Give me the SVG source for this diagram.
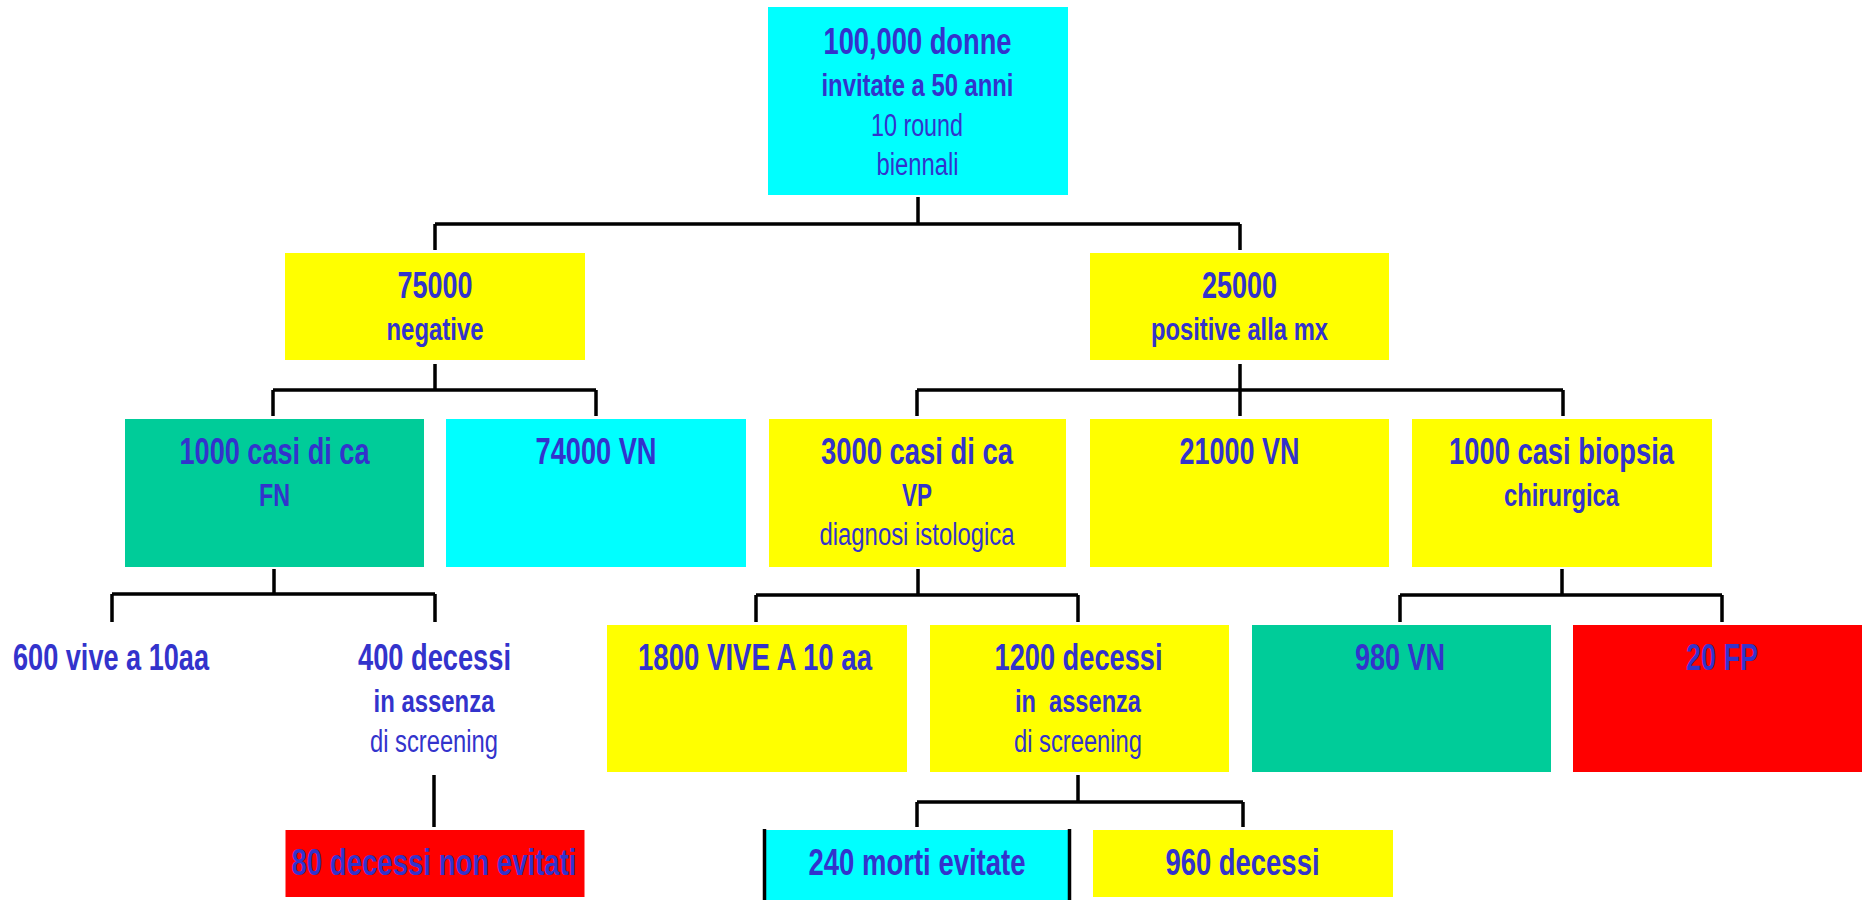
<svg xmlns="http://www.w3.org/2000/svg" width="1862" height="900" viewBox="0 0 1862 900">
<style>
text{font-family:"Liberation Sans",Arial,sans-serif;fill:#3333CC;text-anchor:middle}
.b1{font-size:36px;font-weight:bold}
.b2{font-size:31px;font-weight:bold}
.r2{font-size:31px;font-weight:normal}
.cy{fill:#00FFFF}.ye{fill:#FFFF00}.gr{fill:#00CC99}.rd{fill:#FF0000}
.ln{stroke:#000;stroke-width:3.5;fill:none}
</style>
<rect width="1862" height="900" fill="#fff"/>
<g id="connectors" class="ln">
<path d="M918,197V224M435,224H1240M435,224V250M1240,224V250"/>
<path d="M435,364V390M273,390H596M273,390V416M596,390V416"/>
<path d="M1240,364V416M917,390H1563M917,390V416M1563,390V416"/>
<path d="M274,569V594M112,594H435M112,594V622M435,594V622"/>
<path d="M918,569V595M756,595H1078M756,595V622M1078,595V622"/>
<path d="M1562,569V595M1400,595H1722M1400,595V622M1722,595V622"/>
<path d="M434,775V827"/>
<path d="M1078,775V802M917,802H1243M917,802V827M1243,802V827"/>
</g>
<g id="n-root">
<rect class="cy" x="768" y="7" width="300" height="188"/>
<text class="b1" x="917.5" y="54" textLength="188" lengthAdjust="spacingAndGlyphs">100,000 donne</text>
<text class="b2" x="917.5" y="96" textLength="192" lengthAdjust="spacingAndGlyphs">invitate a 50 anni</text>
<text class="r2" x="917" y="136" textLength="92" lengthAdjust="spacingAndGlyphs">10 round</text>
<text class="r2" x="917.5" y="175" textLength="82" lengthAdjust="spacingAndGlyphs">biennali</text>
</g>
<g id="n-neg">
<rect class="ye" x="285" y="253" width="300" height="107"/>
<text class="b1" x="435" y="298" textLength="75" lengthAdjust="spacingAndGlyphs">75000</text>
<text class="b2" x="435" y="340" textLength="97" lengthAdjust="spacingAndGlyphs">negative</text>
</g>
<g id="n-pos">
<rect class="ye" x="1090" y="253" width="299" height="107"/>
<text class="b1" x="1239.5" y="298" textLength="75" lengthAdjust="spacingAndGlyphs">25000</text>
<text class="b2" x="1239.5" y="340" textLength="177" lengthAdjust="spacingAndGlyphs">positive alla mx</text>
</g>
<g id="n-fn">
<rect class="gr" x="125" y="419" width="299" height="148"/>
<text class="b1" x="274.5" y="464" textLength="190" lengthAdjust="spacingAndGlyphs">1000 casi di ca</text>
<text class="b2" x="274.5" y="506" textLength="31" lengthAdjust="spacingAndGlyphs">FN</text>
</g>
<g id="n-vn74">
<rect class="cy" x="446" y="419" width="300" height="148"/>
<text class="b1" x="596" y="464" textLength="121" lengthAdjust="spacingAndGlyphs">74000 VN</text>
</g>
<g id="n-vp">
<rect class="ye" x="769" y="419" width="297" height="148"/>
<text class="b1" x="917" y="464" textLength="192" lengthAdjust="spacingAndGlyphs">3000 casi di ca</text>
<text class="b2" x="917" y="506" textLength="30" lengthAdjust="spacingAndGlyphs">VP</text>
<text class="r2" x="917" y="545" textLength="195" lengthAdjust="spacingAndGlyphs">diagnosi istologica</text>
</g>
<g id="n-vn21">
<rect class="ye" x="1090" y="419" width="299" height="148"/>
<text class="b1" x="1239.5" y="464" textLength="120" lengthAdjust="spacingAndGlyphs">21000 VN</text>
</g>
<g id="n-biopsia">
<rect class="ye" x="1412" y="419" width="300" height="148"/>
<text class="b1" x="1561.5" y="464" textLength="225" lengthAdjust="spacingAndGlyphs">1000 casi biopsia</text>
<text class="b2" x="1561.5" y="506" textLength="115" lengthAdjust="spacingAndGlyphs">chirurgica</text>
</g>
<g id="n-vive600">
<text class="b1" x="111" y="670" textLength="196" lengthAdjust="spacingAndGlyphs">600 vive a 10aa</text>
</g>
<g id="n-dec400">
<text class="b1" x="434.5" y="670" textLength="153" lengthAdjust="spacingAndGlyphs">400 decessi</text>
<text class="b2" x="434" y="711.5" textLength="121" lengthAdjust="spacingAndGlyphs">in assenza</text>
<text class="r2" x="434" y="751.5" textLength="128" lengthAdjust="spacingAndGlyphs">di screening</text>
</g>
<g id="n-vive1800">
<rect class="ye" x="607" y="625" width="300" height="147"/>
<text class="b1" x="755" y="670" textLength="234" lengthAdjust="spacingAndGlyphs">1800 VIVE A 10 aa</text>
</g>
<g id="n-dec1200">
<rect class="ye" x="930" y="625" width="299" height="147"/>
<text class="b1" x="1078.5" y="670" textLength="168" lengthAdjust="spacingAndGlyphs">1200 decessi</text>
<text class="b2" x="1078" y="711.5" textLength="126" lengthAdjust="spacingAndGlyphs" xml:space="preserve">in  assenza</text>
<text class="r2" x="1078" y="751.5" textLength="128" lengthAdjust="spacingAndGlyphs">di screening</text>
</g>
<g id="n-vn980">
<rect class="gr" x="1252" y="625" width="299" height="147"/>
<text class="b1" x="1400" y="670" textLength="90" lengthAdjust="spacingAndGlyphs">980 VN</text>
</g>
<g id="n-fp20">
<rect class="rd" x="1573" y="625" width="289" height="147"/>
<text class="b1" x="1722" y="670" textLength="72" lengthAdjust="spacingAndGlyphs">20 FP</text>
</g>
<g id="n-dec80">
<rect class="rd" x="285.5" y="830" width="299" height="67"/>
<text class="b1" x="434" y="875" textLength="285" lengthAdjust="spacingAndGlyphs">80 decessi non evitati</text>
</g>
<g id="n-morti240">
<rect class="cy" x="766" y="830" width="302" height="70"/>
<path class="ln" d="M764.5,829V900M1069.5,829V900" stroke-width="3"/>
<text class="b1" x="917" y="875" textLength="217" lengthAdjust="spacingAndGlyphs">240 morti evitate</text>
</g>
<g id="n-dec960">
<rect class="ye" x="1093" y="830" width="300" height="67"/>
<text class="b1" x="1242.5" y="875" textLength="154" lengthAdjust="spacingAndGlyphs">960 decessi</text>
</g>
</svg>
